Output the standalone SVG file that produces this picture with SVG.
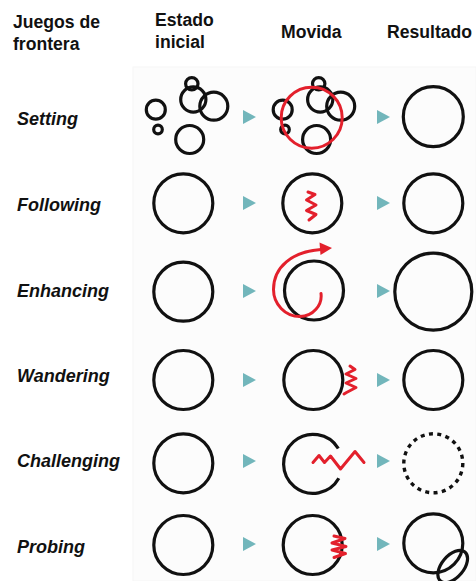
<svg xmlns="http://www.w3.org/2000/svg" width="476" height="581" viewBox="0 0 476 581">
  <style>
    .hdr { font-family: "Liberation Sans", Arial, sans-serif; font-weight: bold; font-size: 17.6px; fill: #111; }
    .lbl { font-family: "Liberation Sans", Arial, sans-serif; font-weight: bold; font-style: italic; font-size: 18px; fill: #111; }
    .c { fill: none; stroke: #111; stroke-width: 3.2; }
    .r { fill: none; stroke: #e3202c; stroke-width: 3; stroke-linejoin: round; stroke-linecap: round; }
    .dot { fill: none; stroke: #111; stroke-width: 3.4; stroke-dasharray: 4 4.4; }
    .tri { fill: #72b6bb; }
  </style>
  <defs>
    <polygon id="step" class="tri" points="0,-7 13,0 0,7"/>
  </defs>

  <rect width="476" height="581" fill="#ffffff"/>
  <rect x="133" y="67" width="343" height="514" fill="#fcfcfc" stroke="#f6f6f6" stroke-width="1"/>

  <!-- column headings -->
  <g id="headings">
    <text class="hdr" x="13" y="28">Juegos de</text>
    <text class="hdr" x="13" y="50">frontera</text>
    <text class="hdr" x="155" y="26">Estado</text>
    <text class="hdr" x="155" y="48">inicial</text>
    <text class="hdr" x="281" y="38">Movida</text>
    <text class="hdr" x="387" y="38">Resultado</text>
  </g>

  <!-- step arrows between columns -->
  <g id="connectors">
    <use href="#step" x="243" y="117"/>
    <use href="#step" x="377" y="117"/>
    <use href="#step" x="243" y="203"/>
    <use href="#step" x="377" y="203"/>
    <use href="#step" x="243" y="291"/>
    <use href="#step" x="377" y="291"/>
    <use href="#step" x="243" y="380"/>
    <use href="#step" x="377" y="380"/>
    <use href="#step" x="243" y="461"/>
    <use href="#step" x="377" y="461"/>
    <use href="#step" x="243" y="544"/>
    <use href="#step" x="377" y="544"/>
  </g>

  <!-- Setting -->
  <g id="setting">
    <text class="lbl" x="17" y="125">Setting</text>
    <g id="setting-initial">
      <circle class="c" cx="155.8" cy="109.7" r="9.5"/>
      <circle class="c" cx="158" cy="129.5" r="4.3"/>
      <circle class="c" cx="191.8" cy="83.8" r="6.2"/>
      <circle class="c" cx="193.3" cy="99.5" r="12.6"/>
      <circle class="c" cx="213.8" cy="106.2" r="14"/>
      <circle class="c" cx="189.7" cy="139.5" r="14"/>
    </g>
    <g id="setting-move">
      <circle class="c" cx="282.7" cy="109.7" r="9.5"/>
      <circle class="c" cx="285" cy="129.5" r="4.3"/>
      <circle class="c" cx="318.7" cy="83.8" r="6.2"/>
      <circle class="c" cx="320.2" cy="99.5" r="12.6"/>
      <circle class="c" cx="340.7" cy="106.2" r="14"/>
      <circle class="c" cx="316.6" cy="139.5" r="14"/>
      <circle class="r" cx="311.7" cy="117.7" r="30.5"/>
    </g>
    <g id="setting-result">
      <circle class="c" cx="433.3" cy="116.7" r="30"/>
    </g>
  </g>

  <!-- Following -->
  <g id="following">
    <text class="lbl" x="17" y="211">Following</text>
    <g id="following-initial"><circle class="c" cx="183.3" cy="203.3" r="29.5"/></g>
    <g id="following-move">
      <circle class="c" cx="312.3" cy="203.3" r="29.5"/>
      <polyline class="r" points="308,192 315,194.5 306.5,200 316,205 306.5,210.5 316,214.5 309,220"/>
    </g>
    <g id="following-result"><circle class="c" cx="433.3" cy="203.3" r="29.5"/></g>
  </g>

  <!-- Enhancing -->
  <g id="enhancing">
    <text class="lbl" x="17" y="297">Enhancing</text>
    <g id="enhancing-initial"><circle class="c" cx="183.3" cy="291.7" r="29.5"/></g>
    <g id="enhancing-move">
      <circle class="c" cx="314" cy="290.5" r="29.5"/>
      <path class="r" d="M321,293.5 C322.5,305 313,316.5 300,316.5 C285,316.5 273.5,304 273.5,289.5 C273.5,267 292,251.5 321,249.5"/>
      <polygon fill="#e3202c" points="319.5,242.5 332,248 320.5,255"/>
    </g>
    <g id="enhancing-result"><circle class="c" cx="433.3" cy="291.7" r="38.5"/></g>
  </g>

  <!-- Wandering -->
  <g id="wandering">
    <text class="lbl" x="17" y="382">Wandering</text>
    <g id="wandering-initial"><circle class="c" cx="183.3" cy="380" r="29.5"/></g>
    <g id="wandering-move">
      <circle class="c" cx="313.3" cy="380" r="29.5"/>
      <polyline class="r" points="350,366 355,369.5 346,374 356,378.5 346,383 356,387.5 346.5,392.5 344,394"/>
    </g>
    <g id="wandering-result"><circle class="c" cx="433.3" cy="380" r="29.5"/></g>
  </g>

  <!-- Challenging -->
  <g id="challenging">
    <text class="lbl" x="17" y="467">Challenging</text>
    <g id="challenging-initial"><circle class="c" cx="183.3" cy="463.3" r="29.5"/></g>
    <g id="challenging-move">
      <path class="c" d="M338.8,478.3 A29.5,29.5 0 1 1 338.3,448.5"/>
      <polyline class="r" points="313,462.5 319,455.5 324.5,462.5 330.5,456 340.5,469 355,451.5 364,462.5"/>
    </g>
    <g id="challenging-result"><circle class="dot" cx="433.3" cy="463.3" r="29.5"/></g>
  </g>

  <!-- Probing -->
  <g id="probing">
    <text class="lbl" x="17" y="553">Probing</text>
    <g id="probing-initial"><circle class="c" cx="183.3" cy="545" r="29.5"/></g>
    <g id="probing-move">
      <circle class="c" cx="312.7" cy="545" r="29.5"/>
      <polyline class="r" points="334,536 345,538.5 332,543 346,546.5 332,550 345.5,553.5 334,557.5"/>
    </g>
    <g id="probing-result">
      <circle class="c" cx="433.3" cy="543.3" r="29.5"/>
      <ellipse class="c" cx="452.7" cy="566.5" rx="19" ry="11" transform="rotate(-50 452.7 566.5)"/>
    </g>
  </g>
</svg>
